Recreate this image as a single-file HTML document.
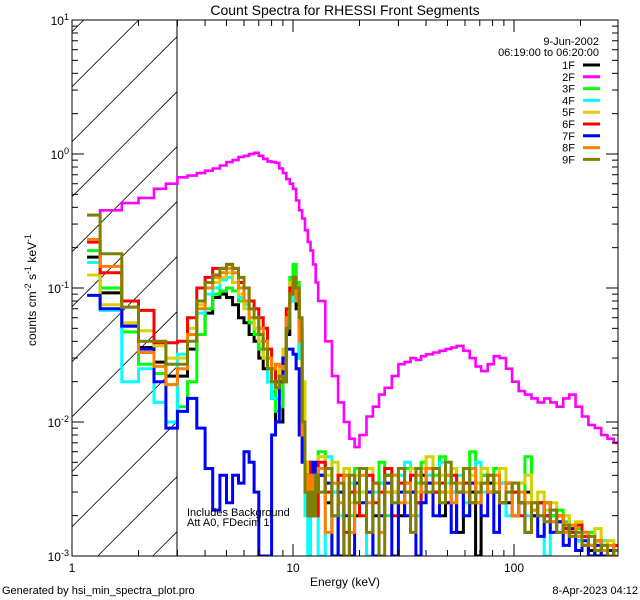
<!DOCTYPE html>
<html><head><meta charset="utf-8"><title>Count Spectra for RHESSI Front Segments</title>
<style>
html,body{margin:0;padding:0;background:#fff;width:640px;height:600px;overflow:hidden;}
svg{display:block;font-family:"Liberation Sans",sans-serif;}
</style></head>
<body>
<svg id="chart" width="640" height="600" viewBox="0 0 640 600" xmlns="http://www.w3.org/2000/svg">
<rect x="0" y="0" width="640" height="600" fill="#fff"/>
<defs><clipPath id="plotclip"><rect x="72" y="20" width="546" height="536"/></clipPath></defs>
<text x="345" y="15" font-size="14" text-anchor="middle">Count Spectra for RHESSI Front Segments</text>
<g id="hatch"></g>
<line x1="177" y1="20" x2="177" y2="556" stroke="#000" stroke-width="1"/>
<g id="series" clip-path="url(#plotclip)"></g>
<rect x="72" y="20" width="546" height="536" fill="none" stroke="#000" stroke-width="1"/>
<g id="axes"></g>
<text x="345" y="586" font-size="12" text-anchor="middle">Energy (keV)</text>
<text transform="translate(36,290) rotate(-90)" font-size="12" text-anchor="middle">counts cm<tspan dy="-5" font-size="9">-2</tspan><tspan dy="5"> s</tspan><tspan dy="-5" font-size="9">-1</tspan><tspan dy="5"> keV</tspan><tspan dy="-5" font-size="9">-1</tspan></text>
<text x="599" y="45" font-size="11" text-anchor="end">9-Jun-2002</text>
<text x="599" y="56" font-size="11" text-anchor="end">06:19:00 to 06:20:00</text>
<g id="legend"></g>
<text x="187" y="516" font-size="11">Includes Background</text>
<text x="187" y="526" font-size="11">Att A0, FDecim 1</text>
<text x="2" y="594" font-size="11">Generated by hsi_min_spectra_plot.pro</text>
<text x="638" y="594" font-size="11" text-anchor="end">8-Apr-2023 04:12</text>
</svg>
<script>
const NS="http://www.w3.org/2000/svg";
const edges=[1.17,1.34,1.68,2.0,2.35,2.66,3.0,
3.33,3.67,4.0,4.33,4.67,5.0,5.33,5.67,6.0,6.33,6.67,7.0,7.33,7.67,8.0,8.33,8.67,9.0,9.33,9.67,10,10.33,10.67,11,11.33,11.67,12,12.33,12.67,13,
14,15,16,17,18,19,20,21.5,23,24.5,26,28,30,32,34,36,38,40,43,46,49,52,55,59,63,67,71,76,81,86,92,98,105,112,120,128,137,146,156,167,178,190,203,217,232,248,265,283,300];
const seriesNames=["1F","2F","3F","4F","5F","6F","7F","8F","9F"];
const seriesColors=["#000000","#ff00ff","#00ff00","#00ffff","#d8d000","#ff0000","#0000ff","#ff8000","#808000"];
const s1F=[0.17,0.092,0.052,0.036,0.028,0.022,
0.022,0.035,0.045,0.065,0.085,0.09,0.085,0.075,0.06,0.055,0.045,0.04,0.03,0.025,0.02,0.015,0.01,0.01,0.02,0.045,0.08,0.09,0.07,0.03,0.008,0.004,0.005,0.003,0.002,0.003,
0.004,0.0025,0.003,0.0005,0.004,0.003,0.002,0.0045,0.003,0.002,0.0035,0.004,0.003,0.002,0.0035,0.003,0.0025,0.004,0.0035,0.003,0.002,0.004,0.003,0.0015,0.0035,0.003,0.0006,0.004,0.0035,0.003,0.0035,0.0025,0.003,0.0025,0.003,0.002,0.0025,0.002,0.002,0.0018,0.0016,0.0015,0.0013,0.0012,0.0011,0.0009,0.0012,0.0011,0.001];
const s2F=[0.35,0.38,0.43,0.47,0.55,0.6,
0.67,0.69,0.72,0.75,0.78,0.82,0.87,0.9,0.95,0.97,1.0,1.02,0.97,0.92,0.88,0.87,0.86,0.78,0.72,0.65,0.6,0.55,0.45,0.38,0.33,0.27,0.22,0.19,0.15,0.11,
0.08,0.04,0.022,0.014,0.01,0.0075,0.0065,0.008,0.011,0.013,0.016,0.018,0.022,0.027,0.028,0.03,0.029,0.031,0.032,0.033,0.034,0.035,0.036,0.037,0.034,0.03,0.026,0.024,0.027,0.031,0.03,0.025,0.02,0.017,0.016,0.015,0.014,0.015,0.014,0.013,0.015,0.016,0.013,0.011,0.0095,0.009,0.008,0.0075,0.007];
const s3F=[0.19,0.1,0.047,0.027,0.023,0.019,
0.013,0.02,0.045,0.07,0.09,0.095,0.1,0.095,0.08,0.075,0.055,0.045,0.035,0.03,0.02,0.017,0.012,0.013,0.025,0.06,0.12,0.15,0.11,0.04,0.01,0.003,0.004,0.002,0.003,0.004,
0.006,0.0035,0.0008,0.003,0.004,0.002,0.0045,0.003,0.0008,0.0035,0.005,0.002,0.004,0.003,0.0045,0.002,0.0035,0.005,0.003,0.004,0.0055,0.003,0.0045,0.0035,0.002,0.006,0.0035,0.004,0.003,0.0045,0.0025,0.003,0.0035,0.0025,0.0055,0.0025,0.002,0.0025,0.002,0.0022,0.0018,0.0017,0.0016,0.0014,0.0015,0.0012,0.0013,0.0011,0.001];
const s4F=[0.155,0.068,0.02,0.025,0.014,0.01,
0.032,0.045,0.065,0.09,0.1,0.115,0.12,0.11,0.085,0.075,0.06,0.05,0.04,0.03,0.02,0.015,0.015,0.02,0.03,0.055,0.08,0.1,0.08,0.03,0.012,0.002,0.001,0.003,0.002,0.002,
0.0009,0.0055,0.003,0.002,0.0045,0.0035,0.0025,0.004,0.0009,0.003,0.0035,0.0045,0.0025,0.004,0.005,0.003,0.002,0.0035,0.004,0.003,0.005,0.0035,0.003,0.004,0.0025,0.0035,0.005,0.003,0.004,0.003,0.0035,0.002,0.003,0.0025,0.002,0.0025,0.002,0.0009,0.0022,0.0018,0.002,0.0016,0.0013,0.0015,0.0012,0.0011,0.0013,0.001,0.0011];
const s5F=[0.125,0.075,0.055,0.048,0.037,0.03,
0.03,0.05,0.075,0.1,0.11,0.12,0.13,0.11,0.09,0.07,0.06,0.05,0.04,0.03,0.025,0.025,0.022,0.025,0.035,0.06,0.11,0.12,0.09,0.05,0.02,0.005,0.004,0.003,0.003,0.002,
0.0055,0.004,0.005,0.003,0.0045,0.0025,0.004,0.003,0.0045,0.0035,0.002,0.004,0.003,0.0035,0.0025,0.0045,0.003,0.0045,0.0055,0.0035,0.004,0.003,0.0045,0.0035,0.003,0.004,0.0035,0.0045,0.003,0.0035,0.0045,0.0035,0.003,0.0035,0.004,0.0025,0.003,0.0022,0.0025,0.002,0.002,0.0016,0.0018,0.0015,0.0014,0.0016,0.0012,0.0013,0.0011];
const s6F=[0.22,0.13,0.08,0.068,0.039,0.039,
0.04,0.06,0.1,0.12,0.14,0.14,0.15,0.14,0.11,0.1,0.08,0.07,0.06,0.05,0.035,0.025,0.02,0.02,0.03,0.07,0.1,0.12,0.1,0.05,0.01,0.004,0.003,0.005,0.003,0.002,
0.005,0.003,0.002,0.004,0.0015,0.003,0.0035,0.002,0.004,0.0025,0.003,0.0045,0.002,0.0035,0.003,0.004,0.0025,0.0035,0.0045,0.003,0.0035,0.0025,0.004,0.003,0.0035,0.0025,0.003,0.0035,0.004,0.003,0.0025,0.0035,0.003,0.002,0.0025,0.0022,0.0025,0.002,0.0018,0.002,0.0016,0.0015,0.0017,0.0014,0.0012,0.0013,0.0011,0.001,0.0012];
const s7F=[0.088,0.07,0.052,0.035,0.02,0.009,
0.012,0.015,0.009,0.0045,0.0022,0.004,0.0025,0.004,0.0035,0.006,0.005,0.003,0.0005,0.0005,0.0005,0.008,0.01,0.02,0.03,0.035,0.035,0.032,0.025,0.008,0.005,0.004,0.003,0.002,0.005,0.003,
0.004,0.0035,0.0008,0.003,0.002,0.0008,0.0035,0.0025,0.003,0.0009,0.002,0.0035,0.0008,0.003,0.002,0.003,0.0008,0.0025,0.0035,0.002,0.003,0.0025,0.0015,0.003,0.002,0.0035,0.0025,0.002,0.003,0.0015,0.0025,0.0035,0.002,0.0025,0.0015,0.002,0.0014,0.0025,0.0015,0.0018,0.0012,0.0016,0.0011,0.0013,0.0009,0.0012,0.001,0.0011,0.0009];
const s8F=[0.23,0.145,0.072,0.033,0.026,0.019,
0.025,0.045,0.07,0.1,0.12,0.13,0.14,0.13,0.1,0.08,0.06,0.06,0.05,0.04,0.03,0.025,0.027,0.026,0.025,0.06,0.09,0.1,0.08,0.04,0.008,0.003,0.004,0.002,0.004,0.003,
0.0045,0.0015,0.0035,0.0025,0.004,0.0015,0.003,0.004,0.0025,0.0035,0.0015,0.003,0.004,0.0025,0.0035,0.002,0.004,0.003,0.0045,0.0035,0.003,0.004,0.0025,0.0035,0.003,0.0045,0.0025,0.0035,0.003,0.004,0.0025,0.0035,0.002,0.003,0.0025,0.0022,0.002,0.0025,0.0018,0.002,0.0015,0.0017,0.0014,0.0015,0.0012,0.0013,0.0011,0.0012,0.001];
const s9F=[0.35,0.18,0.072,0.04,0.04,0.027,
0.027,0.04,0.08,0.11,0.125,0.14,0.15,0.14,0.12,0.1,0.07,0.06,0.045,0.035,0.025,0.02,0.018,0.022,0.02,0.05,0.09,0.12,0.1,0.06,0.01,0.003,0.002,0.003,0.002,0.004,
0.003,0.0045,0.002,0.0035,0.0008,0.004,0.0025,0.0045,0.0015,0.0035,0.0008,0.004,0.0025,0.0045,0.003,0.0015,0.0045,0.0035,0.003,0.0045,0.0025,0.005,0.0035,0.003,0.0045,0.0025,0.003,0.0035,0.004,0.003,0.0025,0.003,0.0035,0.0025,0.0015,0.0025,0.002,0.0018,0.0022,0.0015,0.0017,0.0014,0.0015,0.0012,0.0014,0.0011,0.0012,0.001,0.0011];
const allSeries=[s1F,s2F,s3F,s4F,s5F,s6F,s7F,s8F,s9F];
const xMajorTicks=[1,10,100];
const xTickLabels=["1","10","100"];
const yMajorExps=[1,0,-1,-2,-3];

const L=72,R=618,T=20,B=556,DEC=221,YDEC=134,HX=177;
function X(e){return L+DEC*Math.log10(e);}
function Y(v){var y=T+YDEC*(1-Math.log10(v));return Math.min(Math.max(y,T),B);}

const hatch=document.getElementById('hatch');
for(let k=-10;k<12;k++){
  const y0=416.7-55*k;
  const xa=Math.max(L,L+y0-B), xb=Math.min(HX,L+y0-T);
  if(xa>=xb) continue;
  const l=document.createElementNS(NS,'line');
  
  
  l.setAttribute('x1',xa);l.setAttribute('y1',y0-(xa-L));
  l.setAttribute('x2',xb);l.setAttribute('y2',y0-(xb-L));
  l.setAttribute('stroke','#000');l.setAttribute('stroke-width','0.8');
  hatch.appendChild(l);
}

const sg=document.getElementById('series');
allSeries.forEach(function(vals,si){
  let d='';
  for(let i=0;i<vals.length;i++){
    const x0=X(edges[i]),x1=Math.min(X(edges[i+1]),R),y=Y(vals[i]);
    d+=(i===0?'M':'L')+x0.toFixed(1)+','+y.toFixed(1)+'L'+x1.toFixed(1)+','+y.toFixed(1);
  }
  const p=document.createElementNS(NS,'path');
  
  
  p.setAttribute('d',d);
  p.setAttribute('fill','none');
  p.setAttribute('stroke',seriesColors[si]);
  p.setAttribute('stroke-width',si===1?'2.6':'3');
  p.setAttribute('stroke-linejoin','miter');
  sg.appendChild(p);
});

const ax=document.getElementById('axes');
function ln(x1,y1,x2,y2,name){
  const l=document.createElementNS(NS,'line');
  
  
  l.setAttribute('x1',x1);l.setAttribute('y1',y1);l.setAttribute('x2',x2);l.setAttribute('y2',y2);
  l.setAttribute('stroke','#000');l.setAttribute('stroke-width','1');
  ax.appendChild(l);
}
for(let dec=0;dec<3;dec++){
  for(let m=1;m<10;m++){
    const e=Math.pow(10,dec)*m; const x=X(e); if(x>R) continue;
    const len=(m===1)?12:6;
    ln(x,B,x,B-len,'x-tick');
    ln(x,T,x,T+len,'x-tick-top');
  }
}
xMajorTicks.forEach(function(e,i){
  const t=document.createElementNS(NS,'text');
  
  
  t.setAttribute('x',X(e));t.setAttribute('y',B+16);
  t.setAttribute('font-size','12');t.setAttribute('text-anchor','middle');
  t.textContent=xTickLabels[i];
  ax.appendChild(t);
});
for(let ex=-3;ex<1;ex++){
  for(let m=1;m<10;m++){
    const y=Y(Math.pow(10,ex)*m);
    const len=(m===1)?12:6;
    ln(L,y,L+len,y,'y-tick');
    ln(R,y,R-len,y,'y-tick-right');
  }
}
ln(L,Y(10),L+12,Y(10),'y-tick');ln(R,Y(10),R-12,Y(10),'y-tick-right');
yMajorExps.forEach(function(ex){
  const t=document.createElementNS(NS,'text');
  
  
  t.setAttribute('x',L-3);t.setAttribute('y',Y(Math.pow(10,ex))+5);
  t.setAttribute('font-size','12');t.setAttribute('text-anchor','end');
  const a=document.createElementNS(NS,'tspan');a.textContent='10';
  const b=document.createElementNS(NS,'tspan');b.setAttribute('dy','-5');b.setAttribute('font-size','9');b.textContent=String(ex);
  t.appendChild(a);t.appendChild(b);
  ax.appendChild(t);
});

const lg=document.getElementById('legend');
seriesNames.forEach(function(n,i){
  const y=65+11.8*i;
  const t=document.createElementNS(NS,'text');
  
  
  t.setAttribute('x',575);t.setAttribute('y',y+4);
  t.setAttribute('font-size','11');t.setAttribute('text-anchor','end');
  t.textContent=n;
  lg.appendChild(t);
  const l=document.createElementNS(NS,'line');
  
  
  l.setAttribute('x1',583);l.setAttribute('y1',y);l.setAttribute('x2',600);l.setAttribute('y2',y);
  l.setAttribute('stroke',seriesColors[i]);l.setAttribute('stroke-width','3');
  lg.appendChild(l);
});
</script>
</body></html>
